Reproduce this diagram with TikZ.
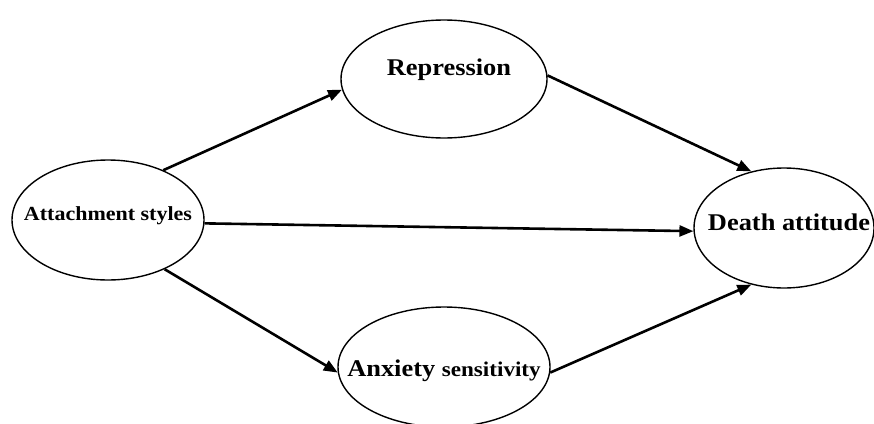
\documentclass[tikz,border=0pt]{standalone}
\usepackage{fontspec}
\setmainfont{Liberation Serif}[FakeStretch=1.1]
\usetikzlibrary{shapes.geometric,arrows.meta}
\begin{document}
\begin{tikzpicture}[x=1pt,y=-1pt,
  oval/.style={draw,ellipse,line width=1.4pt,inner sep=0pt},
  lbl/.style={font=\bfseries,inner sep=0pt},
  arr/.style={line width=2.6pt,-{Triangle[length=14pt,width=11pt]}}]
\useasboundingbox (0,0) rectangle (874,423);
\clip (0,0) rectangle (874,423);
\fill[white] (0,0) rectangle (874,423);
% ellipses
\node[oval,minimum width=192pt,minimum height=120pt] (att) at (108,220) {};
\node[oval,minimum width=206pt,minimum height=118pt] (rep) at (444,79) {};
\node[oval,minimum width=180pt,minimum height=120pt] (dth) at (784,228) {};
\node[oval,minimum width=212pt,minimum height=120pt] (anx) at (444,367) {};
% labels
\node[lbl] (attT) at (108,216) {\fontsize{20}{24}\selectfont Attachment styles};
\node[lbl] (repT) at (449,70) {\fontsize{24}{28}\selectfont Repression};
\node[lbl] (dthT) at (789,222) {\fontsize{24}{28}\selectfont Death attitude};
\node[lbl] (anxT) at (444,371) {\fontsize{24}{28}\selectfont Anxiety \fontsize{21}{26}\selectfont sensitivity};
% arrows
\draw[arr] (att.42) -- (rep.186);
\draw[arr] (att.-2) -- (dth.182.5);
\draw[arr] (att.-41) -- (anx.183);
\draw[arr] (rep.2) -- (dth.120);
\draw[arr] (anx.-3) -- (dth.240.7);
\end{tikzpicture}
\end{document}
